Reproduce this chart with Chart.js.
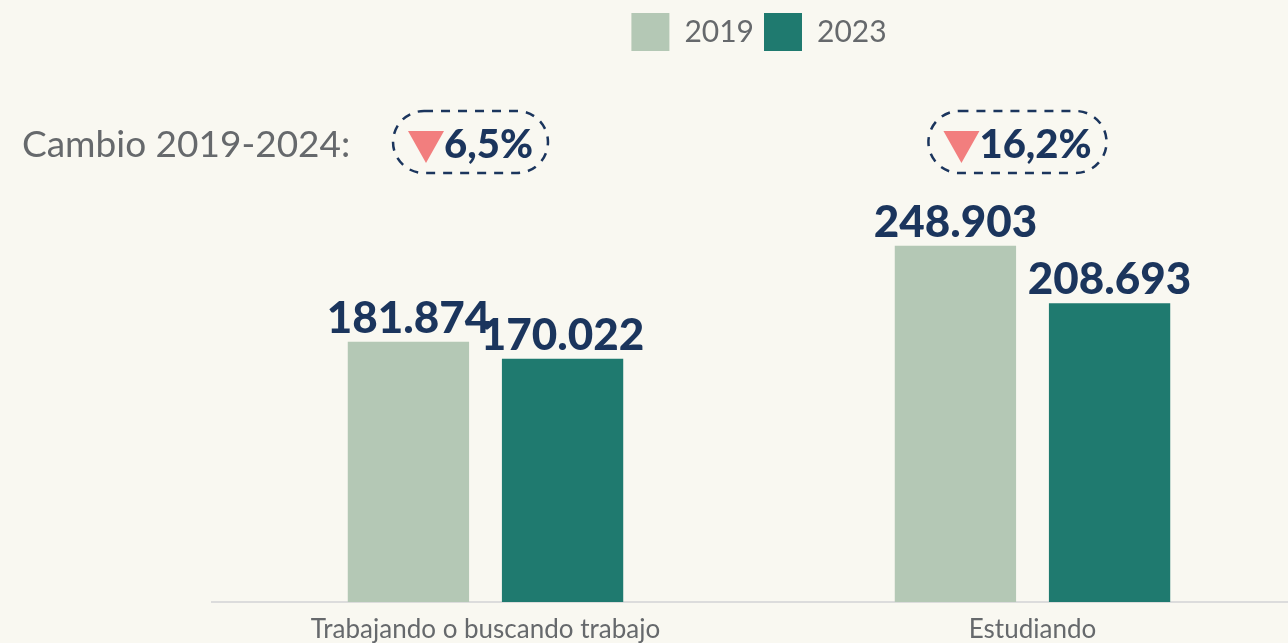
<!DOCTYPE html>
<html>
<head>
<meta charset="utf-8">
<script src="https://cdn.jsdelivr.net/npm/chart.js@4"></script>
<style>
  html, body { margin: 0; padding: 0; background: #f9f8f1; overflow: hidden; }
  #wrap { position: relative; width: 1310px; height: 643px; }
</style>
</head>
<body>
<div id="wrap"><canvas id="chart"></canvas></div>
<script>
// Data
const categories = ['Trabajando o buscando trabajo', 'Estudiando'];
const values2019 = [181874, 248903];
const values2023 = [170022, 208693];
const changeLabels = ['6,5%', '16,2%'];
const changeTitle = 'Cambio 2019-2024:';

const NAVY = '#1b355d';
const GREY = '#66696c';

function fmt(n) {
    return n.toLocaleString('de-DE');
}

// value labels above every bar
const barLabels = {
    id: 'barLabels',
    afterDatasetsDraw(chart) {
        const ctx = chart.ctx;
        ctx.save();
        ctx.font = '900 44px Lato';
        ctx.fillStyle = NAVY;
        ctx.textAlign = 'center';
        ctx.textBaseline = 'alphabetic';
        chart.data.datasets.forEach((ds, di) => {
            chart.getDatasetMeta(di).data.forEach((bar, i) => {
                ctx.fillText(fmt(ds.data[i]), bar.x, bar.y - 9);
            });
        });
        ctx.restore();
    }
};

// "Cambio" row with dashed pills
const changeRow = {
    id: 'changeRow',
    afterDraw(chart) {
        const ctx = chart.ctx;
        const xs = chart.scales.x;
        const cy = 142;
        ctx.save();
        ctx.font = '37px Lato';
        ctx.fillStyle = GREY;
        ctx.textAlign = 'left';
        ctx.textBaseline = 'alphabetic';
        ctx.fillText(changeTitle, 22, 157);

        changeLabels.forEach((txt, i) => {
            const cx = xs.getPixelForValue(i) - 15;
            ctx.font = '900 40px Lato';
            const tw = ctx.measureText(txt).width;
            const triW = 36, triH = 32;
            const total = triW + tw;
            const left = cx - total / 2;
            // pill
            const pw = total + 30, ph = 62;
            const px = cx - pw / 2, py = cy - ph / 2;
            ctx.beginPath();
            ctx.roundRect(px, py, pw, ph, 31);
            ctx.setLineDash([9, 8]);
            ctx.lineWidth = 2.5;
            ctx.strokeStyle = NAVY;
            ctx.stroke();
            ctx.setLineDash([]);
            // triangle
            ctx.beginPath();
            ctx.moveTo(left, cy - 11);
            ctx.lineTo(left + triW, cy - 11);
            ctx.lineTo(left + triW / 2, cy - 11 + triH);
            ctx.closePath();
            ctx.fillStyle = '#f27e7e';
            ctx.fill();
            // text
            ctx.fillStyle = NAVY;
            ctx.fillText(txt, left + triW, cy + 16);
        });
        ctx.restore();
    }
};

const bg = {
    id: 'bg',
    beforeDraw(chart) {
        const ctx = chart.ctx;
        ctx.save();
        ctx.fillStyle = '#f9f8f1';
        ctx.fillRect(0, 0, chart.width, chart.height);
        ctx.restore();
    }
};

new Chart(document.getElementById('chart'), {
    type: 'bar',
    data: {
        labels: categories,
        datasets: [{
            label: '2019',
            data: values2019,
            backgroundColor: '#b4c8b5',
            borderWidth: 0
        }, {
            label: '2023',
            data: values2023,
            backgroundColor: '#1f7a6f',
            borderWidth: 0
        }]
    },
    options: {
        responsive: true,
        maintainAspectRatio: false,
        animation: false,
        categoryPercentage: 0.5636,
        barPercentage: 0.787,
        layout: {
            padding: { left: 212, right: 4, top: 3, bottom: 0 }
        },
        plugins: {
            legend: {
                position: 'top',
                labels: {
                    boxWidth: 38,
                    boxHeight: 38,
                    padding: 10,
                    color: GREY,
                    font: { family: 'Lato', size: 30 }
                }
            },
            tooltip: { enabled: false }
        },
        scales: {
            x: {
                grid: { display: false, drawTicks: false },
                border: { display: true, color: '#dcdcdc', width: 2 },
                ticks: {
                    color: GREY,
                    padding: 12,
                    font: { family: 'Lato', size: 26 }
                },
                afterFit(scale) {
                    scale.height = 41;
                }
            },
            y: {
                display: false,
                beginAtZero: true,
                max: 378000
            }
        }
    },
    plugins: [bg, barLabels, changeRow]
});
</script>
</body>
</html>
